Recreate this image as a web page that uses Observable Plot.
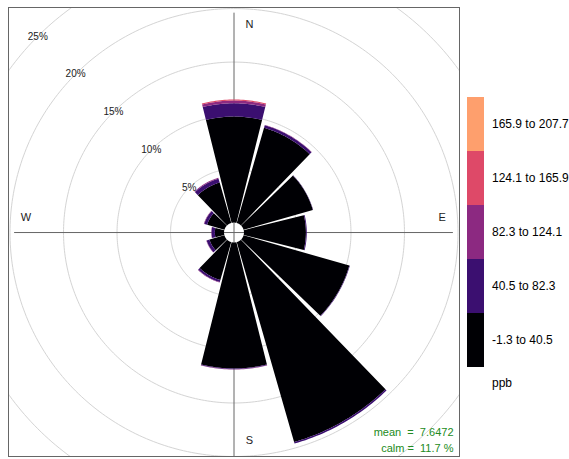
<!DOCTYPE html>
<html>
<head>
<meta charset="utf-8">
<script src="https://cdn.jsdelivr.net/npm/d3@7"></script>
<script src="https://cdn.jsdelivr.net/npm/@observablehq/plot@0.6"></script>
<style>
  body { margin: 0; background: #fff; font-family: "Liberation Sans", Arial, sans-serif; }
  #wrap { position: relative; width: 569px; height: 459px; }
  #legend { position: absolute; left: 467px; top: 97px; }
  .item { position: relative; height: 54px; }
  .sw { position: absolute; left: 0; top: 0; width: 17px; height: 54px; }
  .lab { position: absolute; left: 25px; top: 0; line-height: 54px; font-size: 12px; color: #000; white-space: nowrap; }
  #unit { position: absolute; left: 492px; top: 376px; font-size: 12px; }
</style>
</head>
<body>
<div id="wrap"></div>
<script>
// ---- data ----
const directions = [0, 30, 60, 90, 120, 150, 180, 210, 240, 270, 300, 330];
const binLabels = ["-1.3 to 40.5", "40.5 to 82.3", "82.3 to 124.1", "124.1 to 165.9", "165.9 to 207.7"];
const binColors = ["#000004", "#3B0F70", "#8C2981", "#DE4968", "#FE9F6D"];
// percentage of time per direction, per concentration bin
const bin1 = [9.91, 9.25, 6.73, 5.79, 10.28, 19.44, 11.78, 3.69, 1.45, 0.86, 1.68, 3.93];
const bin2 = [1.24, 0.25, 0.03, 0.08, 0.05, 0.15, 0.06, 0.20, 0.28, 0.31, 0.28, 0.38];
const bin3 = [0.25, 0.03, 0.00, 0.00, 0.00, 0.00, 0.03, 0.04, 0.03, 0.03, 0.04, 0.08];
const bin4 = [0.10, 0.00, 0.00, 0.00, 0.00, 0.00, 0.00, 0.00, 0.00, 0.00, 0.00, 0.00];
const bin5 = [0.00, 0.00, 0.00, 0.00, 0.00, 0.00, 0.00, 0.00, 0.00, 0.00, 0.00, 0.00];
const ringTicks = [5, 10, 15, 20, 25];
const compassLabels = ["N", "E", "S", "W"];
const compassAngles = [0, 90, 180, 270];
const meanText = "mean  =  7.6472";
const calmText = "calm =  11.7 %";
const unitLabel = "ppb";

// ---- geometry helpers (data space = percent) ----
const offset = 0.93;      // inner hole radius, in percent units
const halfWidth = 14;     // half angular width of each wedge (deg)
const rad = a => a * Math.PI / 180;
const polar = (r, a) => ({ x: r * Math.sin(rad(a)), y: r * Math.cos(rad(a)) });

const bins = [bin1, bin2, bin3, bin4, bin5];
const wedgePts = [];
directions.forEach((dir, i) => {
  let cum = 0;
  bins.forEach((b, k) => {
    const v = b[i];
    if (v <= 0) return;
    const r0 = offset + cum, r1 = offset + cum + v;
    cum += v;
    const id = dir + "-" + k;
    for (let a = dir - halfWidth; a <= dir + halfWidth + 1e-9; a += 1) wedgePts.push({ id, bin: binLabels[k], ...polar(r1, a) });
    for (let a = dir + halfWidth; a >= dir - halfWidth - 1e-9; a -= 1) wedgePts.push({ id, bin: binLabels[k], ...polar(r0, a) });
  });
});

const ringPts = [];
ringTicks.forEach(t => {
  for (let a = 0; a < 360; a += 1) ringPts.push({ t, ...polar(offset + t, a) });
});
const ringLabels = ringTicks.map(t => ({ label: t + "%", ...polar(offset + t, 315) }));

const labelR = 19.45, labelOff = 1.45;
const compass = compassLabels.map((l, i) => {
  const a = compassAngles[i];
  const p = polar(labelR, a);
  return { label: l, x: p.x + labelOff * Math.abs(Math.cos(rad(a))), y: p.y + labelOff * Math.abs(Math.sin(rad(a))) };
});

const axisLen = 20.5;

const chart = Plot.plot({
  width: 569,
  height: 459,
  marginLeft: 8,
  marginRight: 110,
  marginTop: 7,
  marginBottom: 3,
  x: { domain: [-21.07, 21.07], axis: null },
  y: { domain: [-20.93, 21.03], axis: null },
  color: { domain: binLabels, range: binColors },
  style: { fontFamily: "Liberation Sans, Arial, sans-serif", fontSize: "11px", background: "#fff" },
  marks: [
    Plot.line(ringPts, { x: "x", y: "y", z: "t", curve: "linear-closed", stroke: "#d4d4d4", strokeWidth: 1, clip: true }),
    Plot.ruleX([0], { y1: -21, y2: axisLen, stroke: "#666", strokeWidth: 1, clip: true }),
    Plot.ruleY([0], { x1: -axisLen, x2: axisLen, stroke: "#666", strokeWidth: 1, clip: true }),
    Plot.line(wedgePts, { x: "x", y: "y", z: "id", fill: "bin", stroke: null, curve: "linear-closed" }),
    Plot.text(ringLabels, { x: "x", y: "y", text: "label", fontSize: 10, fill: "#222" }),
    Plot.text(compass, { x: "x", y: "y", text: "label", fontSize: 11, fill: "#222" }),
    Plot.text([meanText + "\n" + calmText], { frameAnchor: "bottom-right", textAnchor: "end", lineAnchor: "bottom", lineHeight: 1.45, dx: -6, dy: -5, fill: "#228B22", fontSize: 11, style: "white-space: pre" }),
    Plot.frame({ stroke: "#666" })
  ]
});
chart.querySelectorAll("text").forEach(t => t.setAttribute("xml:space", "preserve"));
chart.querySelectorAll("tspan").forEach(t => t.style.whiteSpace = "pre");
document.getElementById("wrap").appendChild(chart);

// ---- legend ----
const legend = document.createElement("div");
legend.id = "legend";
binLabels.slice().reverse().forEach((l, i) => {
  const col = binColors[binColors.length - 1 - i];
  const item = document.createElement("div");
  item.className = "item";
  item.innerHTML = `<div class="sw" style="background:${col}"></div><div class="lab">${l}</div>`;
  legend.appendChild(item);
});
document.getElementById("wrap").appendChild(legend);
const unit = document.createElement("div");
unit.id = "unit";
unit.textContent = unitLabel;
document.getElementById("wrap").appendChild(unit);
</script>
</body>
</html>
